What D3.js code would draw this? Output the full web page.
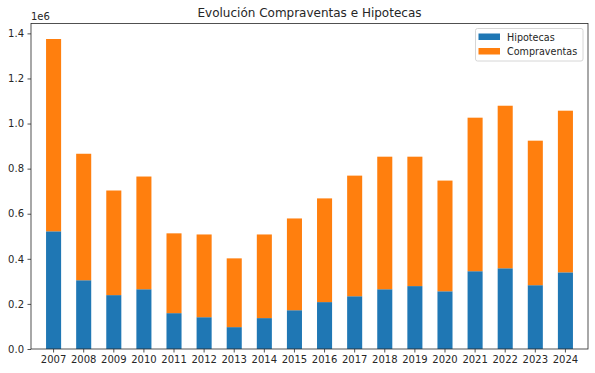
<!DOCTYPE html>
<html>
<head>
<meta charset='utf-8'>
<script src='https://d3js.org/d3.v7.min.js'></script>
<style>
body { margin: 0; background: #fff; }
text { font-family: 'DejaVu Sans', sans-serif; fill: #262626; }
</style>
</head>
<body>
<div id="chart"></div>
<script>
var years = ['2007','2008','2009','2010','2011','2012','2013','2014','2015',
  '2016','2017','2018','2019','2020','2021','2022','2023','2024'];
var hipotecas = [522000, 305000, 239000, 265000, 159000, 141000, 97000, 137000, 172000,
  208000, 234000, 265000, 279000, 256000, 345000, 358000, 283000, 340000];
var compraventas = [853000, 561000, 464000, 500000, 354000, 367000, 305000, 371000, 407000,
  460000, 535000, 588000, 574000, 491000, 681000, 721000, 641000, 717000];
var seriesNames = ['Hipotecas', 'Compraventas'];
var colors = ['#1f77b4', '#ff7f0e'];
var yTicks = [0, 200000, 400000, 600000, 800000, 1000000, 1200000, 1400000];

var W = 595, H = 373;
var margin = {top: 23.5, right: 7, bottom: 24, left: 31};
var width = W - margin.left - margin.right,
    height = H - margin.top - margin.bottom;

var svg = d3.select('#chart').append('svg')
  .attr('width', W).attr('height', H);

var g = svg.append('g')
  .attr('transform', 'translate(' + margin.left + ',' + margin.top + ')');

var rows = years.map(function(y, i) {
  return {year: y, Hipotecas: hipotecas[i], Compraventas: compraventas[i]};
});
var stacked = d3.stack().keys(seriesNames)(rows);

var maxTotal = d3.max(rows, function(d) { return d.Hipotecas + d.Compraventas; });

var x = d3.scaleBand().domain(years).range([0, width]).padding(0.5).align(0.5);
var y = d3.scaleLinear().domain([0, maxTotal * 1.05]).range([height, 0]);

g.selectAll('g.series')
  .data(stacked)
  .enter().append('g')
  .attr('class', 'series')
  .attr('fill', function(d, i) { return colors[i]; })
  .selectAll('rect')
  .data(function(d) { return d; })
  .enter().append('rect')
  .attr('x', function(d) { return x(d.data.year); })
  .attr('width', x.bandwidth())
  .attr('y', function(d) { return y(d[1]); })
  .attr('height', function(d) { return y(d[0]) - y(d[1]); });

var xAxis = g.append('g')
  .attr('transform', 'translate(0,' + height + ')')
  .call(d3.axisBottom(x).tickSize(3.5).tickPadding(3.5));
var yAxis = g.append('g')
  .call(d3.axisLeft(y).tickValues(yTicks).tickSize(3.5).tickPadding(3.5)
    .tickFormat(function(d) { return (d / 1e6).toFixed(1); }));

[xAxis, yAxis].forEach(function(a) {
  a.select('.domain').remove();
  a.selectAll('line').attr('stroke', '#262626').attr('stroke-width', 0.8);
  a.selectAll('text').style('font-size', '10px').style('font-family', 'DejaVu Sans')
    .style('fill', '#262626');
});

// frame
g.append('rect')
  .attr('width', width).attr('height', height)
  .attr('fill', 'none').attr('stroke', '#262626').attr('stroke-width', 0.8);

// offset text
g.append('text')
  .attr('x', 0).attr('y', -4)
  .style('font-size', '10px')
  .text('1e6');

// title
svg.append('text')
  .attr('x', margin.left + width / 2).attr('y', 17.3)
  .attr('text-anchor', 'middle')
  .style('font-size', '12px')
  .text('Evolución Compraventas e Hipotecas');

// legend
var lg = svg.append('g').attr('transform', 'translate(475.5,28.5)');
lg.append('rect')
  .attr('width', 107.5).attr('height', 32.5).attr('rx', 2)
  .attr('fill', '#fff').attr('fill-opacity', 0.8)
  .attr('stroke', '#cccccc').attr('stroke-width', 0.8);
seriesNames.forEach(function(name, i) {
  var item = lg.append('g').attr('transform', 'translate(3,' + (5 + i * 14.5) + ')');
  item.append('rect').attr('width', 21.5).attr('height', 6.5).attr('fill', colors[i]);
  item.append('text').attr('x', 28.5).attr('y', 7)
    .style('font-size', '9.6px').text(name);
});
</script>
</body>
</html>
